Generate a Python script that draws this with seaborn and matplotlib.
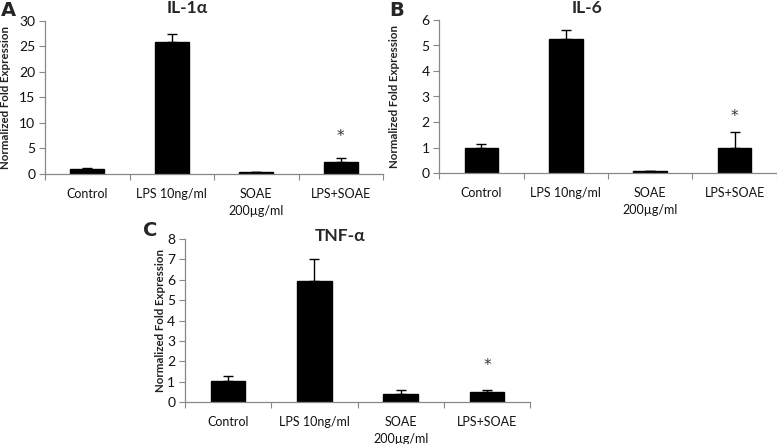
import numpy as np
import pandas as pd
import matplotlib
matplotlib.use("Agg")
import matplotlib.pyplot as plt
import seaborn as sns

# data
groups = ["Control", "LPS 10ng/ml", "SOAE\n200µg/ml", "LPS+SOAE"]
il1a_mean = [1.0, 25.9, 0.4, 2.4]
il1a_err = [0.12, 1.5, 0.0, 0.8]
il6_mean = [0.99, 5.24, 0.08, 0.99]
il6_err = [0.13, 0.37, 0.0, 0.6]
tnfa_mean = [1.02, 5.94, 0.41, 0.49]
tnfa_err = [0.24, 1.09, 0.2, 0.11]
star_y = [7.3, 2.2, 1.8]   # height of the * above LPS+SOAE
ymax = [30, 6, 8]
ystep = [5, 1, 1]
titles = ["IL-1α", "IL-6", "TNF-α"]
letters = ["A", "B", "C"]

sns.set_style("white")
plt.rcParams['font.family'] = ['Lato', 'DejaVu Sans']

fig = plt.figure(figsize=(7.77, 4.44), dpi=100)
W, H = 777, 444

# axes boxes in pixels: left, top, right, bottom
boxes = [(45, 20.7, 383, 174), (439.3, 20, 776.7, 173), (185, 239, 530, 402)]
title_pos = [(187, 8), (587, 8), (340, 236)]
letter_pos = [(8, 10), (397, 10), (150, 230)]
ylab_x = [6, 395, 160]

means = [il1a_mean, il6_mean, tnfa_mean]
errs = [il1a_err, il6_err, tnfa_err]

for i in range(3):
    l, t, r, b = boxes[i]
    ax = fig.add_axes([l / W, 1 - b / H, (r - l) / W, (b - t) / H])
    df = pd.DataFrame({"group": groups, "value": means[i]})
    sns.barplot(data=df, x="group", y="value", color="black", width=0.4,
                edgecolor="black", errorbar=None, ax=ax)
    x = np.arange(len(groups))
    ax.errorbar(x, means[i], yerr=[np.zeros(len(groups)), errs[i]], fmt="none",
                ecolor="black", elinewidth=1, capsize=3.5, capthick=1)
    ax.text(3, star_y[i], "*", ha="center", va="center", fontsize=11, color="#333333",
            family=["DejaVu Sans"])

    ax.set_xlim(-0.5, 3.5)
    ax.set_ylim(0, ymax[i])
    ax.set_yticks(np.arange(0, ymax[i] + 0.01, ystep[i]))
    ax.set_xticks(x)
    ax.set_xticklabels(groups, fontsize=9, color="#111111", linespacing=1.5)
    ax.set_xticks(np.arange(-0.5, 4, 1), minor=True)
    ax.tick_params(axis="x", which="major", length=0, pad=10)
    ax.tick_params(axis="x", which="minor", length=4, width=0.8, color="#888888", direction="out", bottom=True)
    ax.tick_params(axis="y", length=4, width=0.8, color="#888888", direction="out", left=True,
                   labelsize=10, labelcolor="#111111", pad=3)
    ax.set_xlabel("")
    ax.set_ylabel("")
    sns.despine(ax=ax)
    for s in ["left", "bottom"]:
        ax.spines[s].set_color("#888888")
        ax.spines[s].set_linewidth(0.9)

    tx, ty = title_pos[i]
    fig.text(tx / W, 1 - ty / H, titles[i], ha="center", va="center", fontsize=12.5, fontweight="bold")
    lx, ly = letter_pos[i]
    fig.text(lx / W, 1 - ly / H, letters[i], ha="center", va="center", fontsize=14, fontweight="bold",
             family=["DejaVu Sans"])
    fig.text(ylab_x[i] / W, 1 - ((t + b) / 2) / H, "Normalized Fold Expression", rotation=90,
             ha="center", va="center", fontsize=8.3, fontweight="bold", color="#222222")

fig.savefig("out.png", dpi=100)
